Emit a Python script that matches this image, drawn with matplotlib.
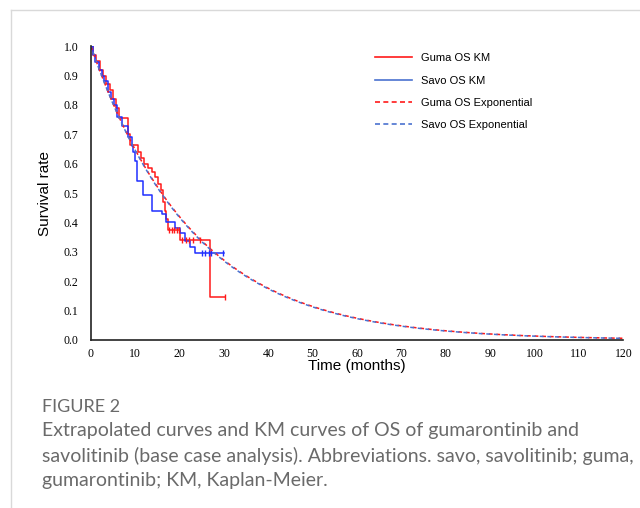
import numpy as np
import matplotlib
matplotlib.use("Agg")
import matplotlib.pyplot as plt
from matplotlib.lines import Line2D

# KM steps (time in months, survival after the event)
guma_t = [0, 0.5, 1.2, 2.0, 2.8, 3.5, 4.3, 5.0, 5.6, 6.3, 8.4, 8.8, 10.6, 11.2, 12.0,
          12.8, 13.8, 14.5, 15.1, 15.8, 16.2, 16.6, 17.0, 17.4, 20.1, 26.9]
guma_s = [1.0, 0.97, 0.95, 0.92, 0.90, 0.87, 0.85, 0.82, 0.79, 0.755, 0.70, 0.665, 0.64, 0.62, 0.60,
          0.585, 0.57, 0.555, 0.53, 0.51, 0.47, 0.44, 0.41, 0.375, 0.34, 0.147]
guma_end = 30.3
guma_cens = [17.6, 18.2, 18.8, 19.3, 19.8, 20.6, 21.4, 22.0, 23.0, 24.5, 30.3]

savo_t = [0, 0.4, 0.9, 1.8, 2.4, 3.0, 3.9, 4.6, 5.2, 5.9, 7.0, 8.4, 9.3, 9.6, 10.0,
          10.4, 11.7, 13.8, 16.0, 17.0, 19.0, 20.1, 21.2, 22.4, 23.5]
savo_s = [1.0, 0.97, 0.945, 0.92, 0.90, 0.88, 0.845, 0.82, 0.80, 0.76, 0.727, 0.69, 0.66, 0.64, 0.61,
          0.54, 0.495, 0.44, 0.43, 0.40, 0.38, 0.365, 0.335, 0.315, 0.297]
savo_end = 29.9
savo_cens = [25.0, 25.8, 26.7, 27.1, 29.8]

# exponential rates (per month)
guma_rate = 0.0435
savo_rate = 0.0438

months = np.linspace(0, 120, 400)

plt.rcParams['font.family'] = ['Liberation Sans', 'DejaVu Sans']

fig = plt.figure(figsize=(6.4, 5.08), dpi=100)
ax = fig.add_axes([0.142, 0.331, 0.832, 0.578])

red = '#ff1a1a'
blue = '#1f2fff'
blue2 = '#4a72d0'


def km_xy(t, s, end):
    return list(t) + [end], list(s) + [s[-1]]


gx, gy = km_xy(guma_t, guma_s, guma_end)
sx, sy = km_xy(savo_t, savo_s, savo_end)
ax.step(gx, gy, where='post', color=red, lw=1.1)
ax.step(sx, sy, where='post', color=blue, lw=1.1)

# censor marks
gs = np.array(guma_s)
gc = [gs[np.searchsorted(guma_t, c, side='right') - 1] for c in guma_cens]
ss = np.array(savo_s)
sc = [ss[np.searchsorted(savo_t, c, side='right') - 1] for c in savo_cens]
ax.plot(guma_cens, gc, ls='none', marker='|', ms=5, mew=1.0, color=red)
ax.plot(savo_cens, sc, ls='none', marker='|', ms=5, mew=1.0, color=blue)

ax.plot(months, np.exp(-guma_rate * months), color=red, ls=(0, (2.5, 2.5)), lw=1.1)
ax.plot(months, np.exp(-savo_rate * months), color=blue2, ls=(1.3, (2.5, 2.5)), lw=1.1)

ax.set_xlim(0, 120)
ax.set_ylim(0, 1.0)
ax.set_xticks(np.arange(0, 121, 10))
ax.set_yticks(np.arange(0, 1.01, 0.1))
ax.set_yticklabels(['%.1f' % v for v in np.arange(0, 1.01, 0.1)])
for lab in ax.get_xticklabels() + ax.get_yticklabels():
    lab.set_family('Liberation Serif')
    lab.set_fontsize(8.5)
ax.tick_params(length=0)
ax.tick_params(axis='y', pad=9)
ax.tick_params(axis='x', pad=6)
for side in ['top', 'right']:
    ax.spines[side].set_visible(False)
for side in ['left', 'bottom']:
    ax.spines[side].set_color('#222222')
    ax.spines[side].set_linewidth(1.2)

ax.set_xlabel('Time (months)', fontsize=11, labelpad=-1)
ax.set_ylabel('Survival rate', fontsize=11, labelpad=8)

handles = [
    Line2D([], [], color=red, lw=1.2),
    Line2D([], [], color=blue2, lw=1.2),
    Line2D([], [], color=red, lw=1.2, ls=(0, (3, 2))),
    Line2D([], [], color=blue2, lw=1.2, ls=(0, (3, 2))),
]
labels = ['Guma OS KM', 'Savo OS KM', 'Guma OS Exponential', 'Savo OS Exponential']
ax.legend(handles, labels, loc='upper left', bbox_to_anchor=(0.515, 1.01), frameon=False,
          fontsize=8, handlelength=3.3, labelspacing=1.1, handletextpad=0.8)

# panel frame and caption
fig.add_artist(Line2D([11 / 640, 1.0], [1 - 10 / 508, 1 - 10 / 508], color='#d9d9d9', lw=1))
fig.add_artist(Line2D([11 / 640, 11 / 640], [0, 1 - 10 / 508], color='#d9d9d9', lw=1))

fig.text(42 / 640, 1 - 407 / 508, 'FIGURE 2', fontsize=13, color='#6a6a6a',
         family='Lato', va='center')
caption = ('Extrapolated curves and KM curves of OS of gumarontinib and\n'
           'savolitinib (base case analysis). Abbreviations. savo, savolitinib; guma,\n'
           'gumarontinib; KM, Kaplan-Meier.')
fig.text(42 / 640, 1 - 422 / 508, caption, fontsize=14, color='#6a6a6a',
         family='Lato', va='top', linespacing=1.52)

fig.savefig('out.png', dpi=100)
